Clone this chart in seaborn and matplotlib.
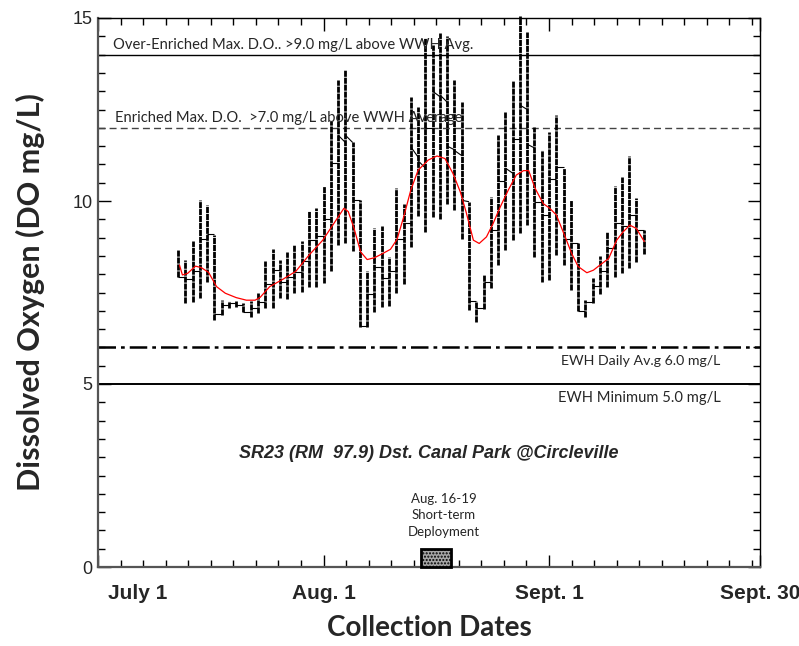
import numpy as np
import pandas as pd
import matplotlib
matplotlib.use("Agg")
import matplotlib.pyplot as plt
import seaborn as sns
from matplotlib.collections import LineCollection
from matplotlib.patches import Rectangle
import matplotlib.transforms as mtransforms

# ---------------- DATA ----------------
days = list(range(11, 76))  # days after July 1
do_max = [8.66, 8.39, 8.91, 10.03, 9.89, 9.07, 7.30, 7.28, 7.27, 7.22,
          7.28, 7.50, 8.36, 8.70, 8.39, 8.60, 8.80, 8.91, 9.74, 9.80,
          10.40, 12.18, 13.31, 13.58, 11.62, 10.03, 8.10, 9.25, 9.31, 8.48,
          10.35, 9.93, 12.84, 12.58, 14.45, 14.25, 14.60, 14.51, 13.31, 12.70,
          9.98, 7.26, 7.97, 10.11, 11.79, 12.43, 13.28, 15.05, 14.62, 12.02,
          11.39, 11.89, 12.36, 10.89, 10.04, 8.84, 7.29, 7.90, 8.50, 9.16,
          10.41, 10.66, 11.24, 10.07, 9.21]
do_min = [7.93, 7.20, 7.23, 7.35, 7.79, 6.75, 6.88, 7.09, 7.11, 6.96,
          6.82, 6.95, 7.09, 7.09, 7.36, 7.31, 7.48, 7.52, 7.66, 7.66,
          7.75, 8.08, 8.79, 8.84, 8.64, 6.55, 6.57, 6.98, 7.10, 7.14,
          7.50, 7.72, 8.75, 9.58, 9.16, 9.56, 9.52, 9.92, 9.75, 8.95,
          7.02, 6.70, 7.06, 7.61, 8.24, 8.65, 8.93, 9.12, 9.34, 8.47,
          7.79, 7.84, 8.52, 8.25, 7.58, 7.00, 6.82, 7.20, 7.47, 7.66,
          7.93, 8.02, 8.16, 8.34, 8.55]
# last reading of day i -> first reading of day i+1
link_from = [7.93, 7.86, 8.09, 8.95, 9.10, 6.90, 7.16, 7.22, 7.16, 6.97,
             7.08, 7.24, 7.73, 8.11, 7.79, 7.93, 8.07, 8.36, 8.93, 9.04,
             9.52, 11.03, 11.80, 11.80, 10.03, 6.58, 7.47, 8.20, 7.90, 8.09,
             8.95, 9.39, 11.48, 11.10, 12.00, 13.00, 12.90, 11.50, 11.38, 10.02,
             7.26, 7.08, 7.80, 9.20, 10.55, 10.90, 11.70, 12.62, 11.55, 9.98,
             9.62, 10.59, 10.93, 8.95, 8.84, 7.00, 7.23, 7.67, 8.09, 8.71,
             9.39, 9.32, 9.62, 9.21]
link_to = [7.93, 7.86, 8.09, 8.95, 9.10, 6.90, 7.16, 7.22, 7.16, 6.97,
           7.08, 7.24, 7.73, 8.11, 7.79, 7.93, 8.07, 8.36, 8.93, 9.04,
           9.52, 11.03, 11.60, 11.60, 10.03, 6.58, 7.47, 8.20, 7.90, 8.09,
           8.95, 9.39, 11.20, 10.90, 12.00, 12.85, 12.70, 11.40, 11.24, 9.98,
           7.26, 7.08, 7.80, 9.20, 10.55, 10.76, 11.70, 12.50, 11.45, 9.98,
           9.62, 10.59, 10.93, 8.95, 8.84, 7.00, 7.23, 7.67, 8.09, 8.71,
           9.39, 9.32, 9.62, 9.21]
smooth_days = [11.2, 11.6, 12.3, 13.4, 14.2, 15.2, 16.3, 17.5, 19.0, 20.4,
               21.6, 22.3, 23.6, 25.4, 27.2, 29.0, 30.9, 32.8, 33.8, 34.4,
               35.2, 36.1, 37.0, 38.0, 39.0, 40.2, 41.1, 42.0, 43.0, 44.0,
               45.4, 46.6, 47.7, 48.8, 49.8, 50.6, 51.6, 52.4, 53.4, 54.3,
               55.3, 56.4, 57.5, 58.5, 59.2, 60.1, 61.2, 62.1, 63.0, 64.2,
               65.1, 66.0, 67.2, 68.1, 69.0, 70.2, 71.3, 72.2, 73.1, 74.0, 75.1]
smooth_vals = [8.25, 7.98, 8.02, 8.22, 8.18, 8.05, 7.66, 7.48, 7.36, 7.29,
               7.29, 7.37, 7.66, 7.86, 8.08, 8.52, 8.93, 9.50, 9.80, 9.71,
               9.25, 8.61, 8.40, 8.45, 8.55, 8.68, 8.95, 9.55, 10.30, 10.84,
               11.12, 11.23, 11.16, 10.75, 10.25, 9.70, 8.93, 8.84, 9.02, 9.38,
               9.84, 10.30, 10.71, 10.83, 10.83, 10.34, 9.93, 9.80, 9.62, 9.03,
               8.57, 8.21, 8.04, 8.11, 8.25, 8.43, 8.93, 9.16, 9.34, 9.25, 8.89]
ref_levels = [14.0, 12.0, 6.0, 5.0]
ref_texts = ["Over-Enriched Max. D.O.. >9.0 mg/L above WWH Avg.",
             "Enriched Max. D.O.  >7.0 mg/L above WWH Average",
             "EWH Daily Av.g 6.0 mg/L",
             "EWH Minimum 5.0 mg/L"]
xtick_pos = [0, 31, 62, 91]
xtick_labels = ["July 1", "Aug. 1", "Sept. 1", "Sept. 30"]
ytick_pos = [0, 5, 10, 15]
deploy_start, deploy_end, deploy_height = 44.4, 48.5, 0.5
title_text = "SR23 (RM  97.9) Dst. Canal Park @Circleville"
deploy_text = "Aug. 16-19\nShort-term\nDeployment"

# ---------------- PLOT ----------------
sns.set_theme(style="white")
plt.rcParams['font.family'] = ['Liberation Sans', 'DejaVu Sans']

fig = plt.figure(figsize=(7.99, 6.46), dpi=100)
ax = fig.add_axes([98/799, 1-567/646, (760-98)/799, (567-18)/646])

# reference lines
ax.axhline(ref_levels[0], color='black', lw=1.0)
ax.axhline(ref_levels[1], color='#444444', lw=1.0, linestyle=(0, (5, 3)))
ax.axhline(ref_levels[2], color='black', lw=1.8, linestyle=(0, (7, 2, 1.5, 2)))
ax.axhline(ref_levels[3], color='black', lw=1.4)

# daily min-max bars
ax.vlines(days, do_min, do_max, color='black', lw=2.0,
          linestyle=(0, (2.2, 0.3)), clip_on=False, zorder=3)
# connectors between days
segs = [[(days[i], link_from[i]), (days[i + 1], link_to[i])] for i in range(len(link_from))]
ax.add_collection(LineCollection(segs, colors='black', linewidths=0.8, zorder=3))

# smoothed line
df_s = pd.DataFrame({"day": smooth_days, "do": smooth_vals})
sns.lineplot(data=df_s, x="day", y="do", color='red', lw=0.9, ax=ax, zorder=4)

# deployment box
ax.add_patch(Rectangle((deploy_start, 0), deploy_end - deploy_start, deploy_height,
                       facecolor='#a6a6a6', edgecolor='black', lw=2.0,
                       hatch='.....', zorder=3, clip_on=False))

ax.set_xlim(0, 91)
ax.set_ylim(0, 15)

# texts
lbl_font = ['Lato', 'DejaVu Sans']
ax.text(2.0, 14.08, ref_texts[0], fontsize=10.6, family=lbl_font, va='bottom', ha='left')
ax.text(2.3, 12.08, ref_texts[1], fontsize=10.6, family=lbl_font, va='bottom', ha='left')
ax.text(85.6, 5.63, ref_texts[2], fontsize=10.2, family=lbl_font, va='center', ha='right')
ax.text(85.6, 4.63, ref_texts[3], fontsize=10.6, family=lbl_font, va='center', ha='right')
ax.text(45.5, 3.1, title_text, fontsize=13, fontweight='bold', fontstyle='italic',
        ha='center', va='center')
ax.text(47.5, 1.42, deploy_text, fontsize=9.5, family=lbl_font, ha='center', va='center',
        linespacing=1.45)

# ticks
ax.set_xticks(xtick_pos)
ax.set_xticklabels(xtick_labels, fontsize=15, fontweight='bold')
ax.set_xticks(np.arange(0, 91, 3.1), minor=True)
ax.set_yticks(ytick_pos)
ax.set_yticklabels([str(v) for v in ytick_pos], fontsize=13)
ax.set_yticks(np.arange(0, 15.01, 0.5), minor=True)
ax.tick_params(which='both', direction='in', top=True, right=True, bottom=True, left=True,
               color='black')
ax.tick_params(which='major', length=9, width=1.0)
ax.tick_params(which='minor', length=5, width=1.0)
ax.tick_params(axis='x', which='major', pad=12)
ax.tick_params(axis='y', which='major', pad=4)
# shift first x label right
off = mtransforms.ScaledTranslation(40/100, 0, fig.dpi_scale_trans)
lab0 = ax.get_xticklabels()[0]
lab0.set_transform(lab0.get_transform() + off)

for side in ['top', 'right']:
    ax.spines[side].set_color('black')
    ax.spines[side].set_linewidth(1.0)
for side in ['left', 'bottom']:
    ax.spines[side].set_color('#555555')
    ax.spines[side].set_linewidth(1.6)

ax.set_xlabel("Collection Dates", fontsize=20, fontweight='bold', family=lbl_font)
ax.set_ylabel("Dissolved Oxygen (DO mg/L)", fontsize=22, fontweight='bold', family=lbl_font)
ax.xaxis.set_label_coords(0.5, -0.088)
ax.yaxis.set_label_coords(-0.080, 0.5)

fig.savefig("out.png", dpi=100)
